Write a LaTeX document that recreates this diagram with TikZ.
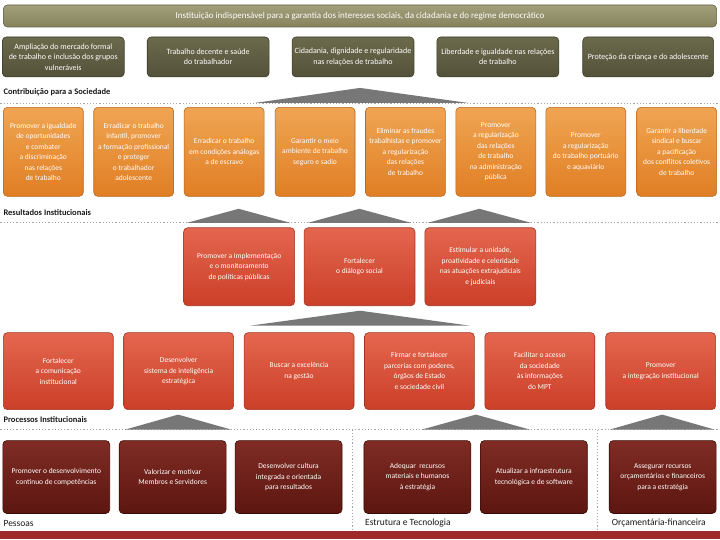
\documentclass[tikz,border=0pt]{standalone}
\usepackage{fontspec}
\setmainfont{Carlito}
\usepackage{xcolor}
\usepackage{tikz}
\usetikzlibrary{positioning}

\definecolor{olivetop}{HTML}{A29F7B}
\definecolor{olivebot}{HTML}{85825D}
\definecolor{oliveline}{HTML}{66644A}
\definecolor{darkolivetop}{HTML}{6C6A4C}
\definecolor{darkolivebot}{HTML}{535139}
\definecolor{darkoliveline}{HTML}{3C3B29}
\definecolor{orangetop}{HTML}{F0A553}
\definecolor{orangebot}{HTML}{E07E24}
\definecolor{orangeline}{HTML}{B9661C}
\definecolor{redtop}{HTML}{E4664E}
\definecolor{redbot}{HTML}{CB3F28}
\definecolor{redline}{HTML}{A23220}
\definecolor{browntop}{HTML}{7F2C24}
\definecolor{brownbot}{HTML}{5C1610}
\definecolor{brownline}{HTML}{3A0D09}
\definecolor{roofgray}{HTML}{777777}
\definecolor{barred}{HTML}{9E2B27}

\begin{document}
\begin{tikzpicture}[x=1pt, y=-1pt,
        box/.style={rectangle, rounded corners=4pt, line width=0.6pt, align=center, text=white, inner sep=1pt},
        mission/.style={box, draw=oliveline, top color=olivetop, bottom color=olivebot, minimum width=714pt, minimum height=22pt, font=\fontsize{9}{11}\selectfont},
        impact/.style={box, draw=darkoliveline, top color=darkolivetop, bottom color=darkolivebot, minimum width=122pt, minimum height=40pt, font=\fontsize{8}{10.5}\selectfont},
        contrib/.style={box, draw=orangeline, top color=orangetop, bottom color=orangebot, minimum width=80pt, minimum height=89pt, font=\fontsize{7.5}{10.5}\selectfont},
        outcome/.style={box, draw=redline, top color=redtop, bottom color=redbot, minimum width=111pt, minimum height=78pt, font=\fontsize{7.5}{10.5}\selectfont},
        process/.style={box, draw=redline, top color=redtop, bottom color=redbot, minimum width=110pt, minimum height=77pt, font=\fontsize{7.5}{10.5}\selectfont},
        resource/.style={box, draw=brownline, top color=browntop, bottom color=brownbot, minimum width=107pt, minimum height=73pt, font=\fontsize{7.5}{10.5}\selectfont},
        layer/.style={anchor=west, inner sep=0pt, text=black!90, font=\bfseries\fontsize{8.5}{10}\selectfont},
        group/.style={anchor=west, inner sep=0pt, text=black!90, font=\fontsize{9.5}{11}\selectfont},
        sep/.style={draw=gray!70, line width=0.7pt, dash pattern=on 1.2pt off 2pt},
        roof/.style={fill=roofgray},
    ]
        \fill[white] (0,0) rectangle (720,540);

        % Mission and impacts
        \node[mission] (mission) at (360, 16) {Instituição indispensável para a garantia dos interesses sociais, da cidadania e do regime democrático};
        \node[impact] (mercado) at (63, 57) {Ampliação do mercado formal\\de trabalho e inclusão dos grupos\\vulneráveis};
        \node[impact] (decente) at (208, 57) {Trabalho decente e saúde\\do trabalhador};
        \node[impact] (cidadania) at (353, 57) {Cidadania, dignidade e regularidade\\nas relações de trabalho};
        \node[impact] (liberdade) at (498, 57) {Liberdade e igualdade nas relações\\de trabalho};
        \node[impact, minimum width=131pt] (protecao) at (648.5, 57) {Proteção da criança e do adolescente};

        % Contribuição para a Sociedade
        \node[layer] (sociedade) at (3, 92) {Contribuição para a Sociedade};
        \draw[sep] (0, 103) -- (720, 103);
        \fill[roof] (255, 103) -- (360, 88) -- (468, 103) -- cycle;
        \node[contrib] (igualdade) at (43, 152) {Promover a igualdade\\de oportunidades\\e combater\\a discriminação\\nas relações\\de trabalho};
        \node[contrib] (infantil) at (133.5, 152) {Erradicar o trabalho\\infantil, promover\\a formação profissional\\e proteger\\o trabalhador\\adolescente};
        \node[contrib] (escravo) at (224, 152) {Erradicar o trabalho\\em condições análogas\\a de escravo};
        \node[contrib] (ambiente) at (315, 152) {Garantir o meio\\ambiente de trabalho\\seguro e sadio};
        \node[contrib] (fraudes) at (405.5, 152) {Eliminar as fraudes\\trabalhistas e promover\\a regularização\\das relações\\de trabalho};
        \node[contrib] (publica) at (496, 152) {Promover\\a regularização\\das relações\\de trabalho\\na administração\\pública};
        \node[contrib] (portuario) at (586, 152) {Promover\\a regularização\\do trabalho portuário\\e aquaviário};
        \node[contrib] (sindical) at (677, 152) {Garantir a liberdade\\sindical e buscar\\a pacificação\\dos conflitos coletivos\\de trabalho};

        % Resultados Institucionais
        \node[layer] (resultados) at (3, 213) {Resultados Institucionais};
        \draw[sep] (0, 223) -- (720, 223);
        \fill[roof] (187, 223) -- (238.5, 209) -- (290, 223) -- cycle;
        \fill[roof] (308, 223) -- (359.5, 209) -- (411, 223) -- cycle;
        \fill[roof] (428, 223) -- (479.5, 209) -- (531, 223) -- cycle;
        \node[outcome] (politicas) at (239, 267) {Promover a implementação\\e o monitoramento\\de políticas públicas};
        \node[outcome] (dialogo) at (359.5, 267) {Fortalecer\\o diálogo social};
        \node[outcome] (unidade) at (480.5, 267) {Estimular a unidade,\\proatividade e celeridade\\nas atuações extrajudiciais\\e judiciais};
        \fill[roof] (250, 326) -- (360, 311) -- (470, 326) -- cycle;

        % Processos Institucionais
        \node[process] (comunicacao) at (58, 371.5) {Fortalecer\\a comunicação\\institucional};
        \node[process] (inteligencia) at (178.5, 371.5) {Desenvolver\\sistema de inteligência\\estratégica};
        \node[process] (excelencia) at (299, 371.5) {Buscar a excelência\\na gestão};
        \node[process] (parcerias) at (419.5, 371.5) {Firmar e fortalecer\\parcerias com poderes,\\órgãos de Estado\\e sociedade civil};
        \node[process] (acesso) at (540, 371.5) {Facilitar o acesso\\da sociedade\\às informações\\do MPT};
        \node[process] (integracao) at (661, 371.5) {Promover\\a integração institucional};
        \node[layer] (processos) at (3, 420) {Processos Institucionais};
        \draw[sep] (0, 430) -- (720, 430);
        \fill[roof] (125, 430) -- (178, 415) -- (231, 430) -- cycle;
        \fill[roof] (422, 430) -- (476, 415) -- (530, 430) -- cycle;
        \fill[roof] (610, 430) -- (662.5, 415) -- (715, 430) -- cycle;
        \draw[sep] (352, 430) -- (352, 530);
        \draw[sep] (598, 430) -- (598, 530);

        % Pessoas, Estrutura e Tecnologia, Orcamentaria-financeira
        \node[resource] (competencias) at (56, 477.5) {Promover o desenvolvimento\\contínuo de competências};
        \node[resource] (valorizar) at (172.5, 477.5) {Valorizar e motivar\\Membros e Servidores};
        \node[resource] (cultura) at (288.5, 477.5) {Desenvolver cultura\\integrada e orientada\\para resultados};
        \node[resource] (recursos) at (417.5, 477.5) {Adequar~~recursos\\materiais e humanos\\à estratégia};
        \node[resource] (infra) at (534, 477.5) {Atualizar a infraestrutura\\tecnológica e de software};
        \node[resource] (orcamento) at (663, 477.5) {Assegurar recursos\\orçamentários e financeiros\\para a estratégia};
        \node[group] (pessoas) at (3, 524) {Pessoas};
        \node[group] (estrutura) at (365, 524) {Estrutura e Tecnologia};
        \node[group] (financeira) at (612, 524) {Orçamentária-financeira};

        \fill[barred] (0, 532) rectangle (720, 540);
    \end{tikzpicture}
\end{document}
